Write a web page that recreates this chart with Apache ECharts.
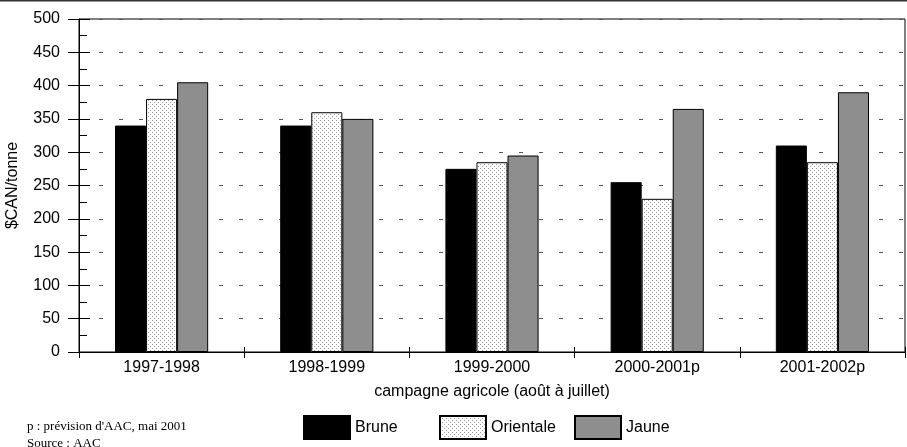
<!DOCTYPE html>
<html>
<head>
<meta charset="utf-8">
<script src="https://cdn.jsdelivr.net/npm/echarts@6/dist/echarts.min.js"></script>
<style>
  html, body { margin: 0; padding: 0; background: #fff; }
  #chart { width: 907px; height: 447px; }
</style>
</head>
<body>
<div id="chart"></div>
<script>
// campagnes agricoles
const categories = ['1997-1998', '1998-1999', '1999-2000', '2000-2001p', '2001-2002p']
// prix en $CAN/tonne
const brune = [340, 340, 275, 255, 310]
const orientale = [380, 360, 285, 230, 285]
const jaune = [405, 350, 295, 365, 390]
const yMin = 0
const yMax = 500
const yStep = 50

// motif pointillé pour "Orientale"
function dotPattern() {
  const c = document.createElement('canvas')
  c.width = 4
  c.height = 4
  const ctx = c.getContext('2d')
  ctx.fillStyle = '#fff'
  ctx.fillRect(0, 0, 4, 4)
  ctx.fillStyle = '#9a9a9a'
  ctx.fillRect(0, 0, 1, 1)
  ctx.fillRect(2, 2, 1, 1)
  return c
}
const dots = { image: dotPattern(), repeat: 'repeat' }

const font = 'Liberation Sans, Arial, sans-serif'
const chart = echarts.init(document.getElementById('chart'))

const legendBase = {
  top: 410,
  itemWidth: 46,
  itemHeight: 23,
  icon: 'rect',
  itemGap: 0,
  textStyle: { fontFamily: font, fontSize: 16, color: '#000' }
}

const option = {
  animation: false,
  backgroundColor: '#fff',
  grid: {
    left: 79, right: 2, top: 19, bottom: 95,
    outerBoundsMode: 'none',
    containLabel: false,
    show: true, borderColor: '#000', borderWidth: 1
  },
  legend: [
    Object.assign({ left: 298, data: ['Brune'] }, legendBase),
    Object.assign({ left: 434, data: ['Orientale'] }, legendBase),
    Object.assign({ left: 569, data: ['Jaune'] }, legendBase)
  ],
  xAxis: [
    {
      type: 'category',
      data: categories,
      name: 'campagne agricole (août à juillet)',
      nameLocation: 'middle',
      nameGap: 32,
      nameTextStyle: { fontFamily: font, fontSize: 16, color: '#000' },
      axisLine: { lineStyle: { color: '#000', width: 1 } },
      axisTick: { show: true, length: 6, lineStyle: { color: '#000' } },
      axisLabel: { fontFamily: font, fontSize: 16, color: '#000', margin: 8 }
    },
    {
      type: 'category',
      data: categories,
      position: 'bottom',
      axisLine: { show: false },
      axisTick: { show: true, inside: true, length: 5, lineStyle: { color: '#000' } },
      axisLabel: { show: false }
    }
  ],
  yAxis: [
    {
      type: 'value',
      min: yMin, max: yMax, interval: yStep,
      name: '$CAN/tonne',
      nameLocation: 'middle',
      nameGap: 58,
      nameTextStyle: { fontFamily: font, fontSize: 16, color: '#000' },
      axisLine: { show: true, lineStyle: { color: '#000', width: 1 } },
      axisTick: { show: true, length: 11, lineStyle: { color: '#000' } },
      axisLabel: { fontFamily: font, fontSize: 16, color: '#000', margin: 19 },
      splitLine: {
        show: true,
        lineStyle: { color: '#555', width: 1, type: [4, 16] }
      }
    },
    {
      type: 'value',
      min: yMin, max: yMax, interval: yStep,
      position: 'left',
      axisLine: { show: false },
      axisTick: { show: true, inside: true, length: 11, lineStyle: { color: '#000' } },
      minorTick: { show: true, splitNumber: 2, length: 8, lineStyle: { color: '#000' } },
      axisLabel: { show: false },
      splitLine: { show: false }
    }
  ],
  series: [
    {
      name: 'Brune', type: 'bar', data: brune,
      barGap: '0%', barCategoryGap: '43.6%',
      itemStyle: { color: '#000', borderColor: '#000', borderWidth: 1 }
    },
    {
      name: 'Orientale', type: 'bar', data: orientale,
      itemStyle: { color: dots, borderColor: '#000', borderWidth: 1 }
    },
    {
      name: 'Jaune', type: 'bar', data: jaune,
      itemStyle: { color: '#8e8e8e', borderColor: '#000', borderWidth: 1 }
    }
  ],
  graphic: [
    {
      type: 'line',
      shape: { x1: 0, y1: 0.5, x2: 907, y2: 0.5 },
      style: { stroke: '#333', lineWidth: 2 }
    },
    {
      type: 'text', left: 27, top: 420,
      style: { text: "p : prévision d'AAC, mai 2001", font: '13px "Liberation Serif", serif', fill: '#000' }
    },
    {
      type: 'text', left: 27, top: 437,
      style: { text: 'Source : AAC', font: '13px "Liberation Serif", serif', fill: '#000' }
    }
  ]
}

chart.setOption(option)
</script>
</body>
</html>
